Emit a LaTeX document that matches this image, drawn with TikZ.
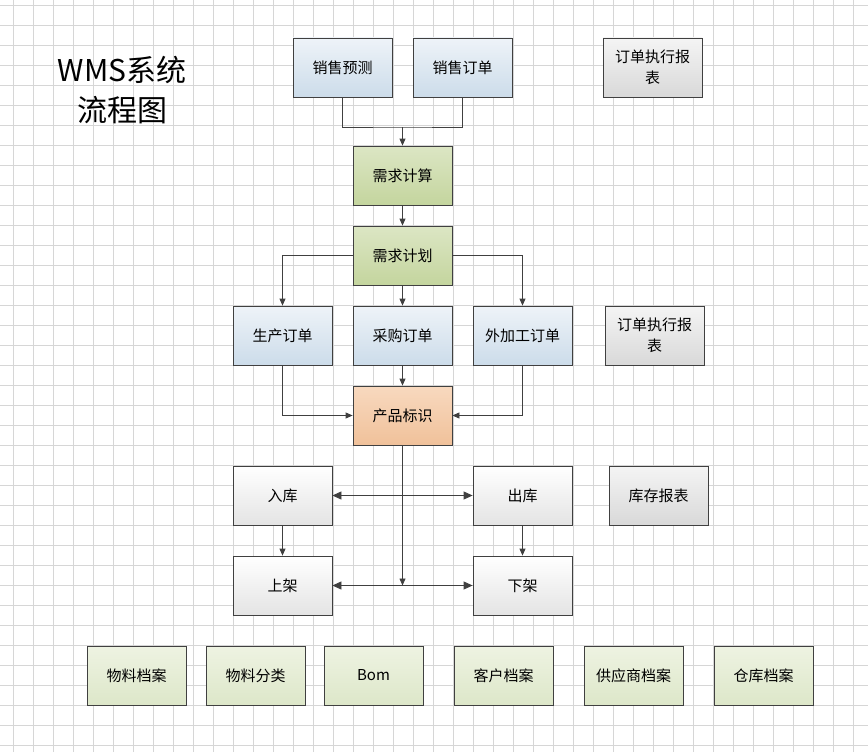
\documentclass[tikz,border=0pt]{standalone}
\usepackage{fontspec}
\setmainfont{Noto Sans CJK SC}
\usetikzlibrary{arrows.meta}
\definecolor{gridc}{HTML}{D6D6D6}
\definecolor{blueA}{HTML}{EEF3F8}\definecolor{blueB}{HTML}{CCDCEA}
\definecolor{grnA}{HTML}{DCE6C4}\definecolor{grnB}{HTML}{C4D59E}
\definecolor{orA}{HTML}{F8D9BF}\definecolor{orB}{HTML}{F0C19A}
\definecolor{gyA}{HTML}{FFFFFF}\definecolor{gyB}{HTML}{E4E4E4}
\definecolor{lgA}{HTML}{EEF3E2}\definecolor{lgB}{HTML}{DDE7C9}
\definecolor{linec}{HTML}{404040}
\begin{document}
\begin{tikzpicture}[x=1pt,y=-1pt,
 box/.style={draw=linec,line width=0.8pt,minimum width=99pt,minimum height=59pt,inner sep=2pt,font=\fontsize{15}{21}\selectfont,align=center},
 blue/.style={box,top color=blueA,bottom color=blueB},
 grn/.style={box,top color=grnA,bottom color=grnB},
 ora/.style={box,top color=orA,bottom color=orB},
 gry/.style={box,top color=gyA,bottom color=gyB},
 gry2/.style={box,top color=gyA!60!gyB,bottom color=gyB!95!black},
 lgr/.style={box,top color=lgA,bottom color=lgB},
 arr/.style={draw=linec,line width=0.8pt,-{Triangle[length=7pt,width=6pt]}},
 darr/.style={draw=linec,line width=0.8pt,{Triangle[length=9pt,width=8pt]}-{Triangle[length=9pt,width=8pt]}},
 ln/.style={draw=linec,line width=0.8pt}]
\useasboundingbox (0,0) rectangle (868,752);
\fill[white] (0,0) rectangle (868,752);
\foreach \x in {13,33,...,868} \draw[gridc,line width=0.6pt] (\x,0) -- (\x,752);
\foreach \y in {5,25,...,752} \draw[gridc,line width=0.6pt] (0,\y) -- (868,\y);
\node[align=center,font=\fontsize{30}{40}\selectfont] (title) at (122,90) {WMS系统\\流程图};
\node[blue] (yc) at (342.5,67.5) {销售预测};
\node[blue] (xd) at (462.5,67.5) {销售订单};
\node[gry2] (r1) at (652.5,67.5) {订单执行报\\表};
\node[grn] (jsuan) at (402.5,175.5) {需求计算};
\node[grn] (jhua) at (402.5,255.5) {需求计划};
\node[blue] (sc) at (282.5,335.5) {生产订单};
\node[blue] (cg) at (402.5,335.5) {采购订单};
\node[blue] (wjg) at (522.5,335.5) {外加工订单};
\node[gry2] (r2) at (654.5,335.5) {订单执行报\\表};
\node[ora] (bs) at (402.5,415.5) {产品标识};
\node[gry] (rk) at (282.5,495.5) {入库};
\node[gry] (ck) at (522.5,495.5) {出库};
\node[gry2] (r3) at (658.5,495.5) {库存报表};
\node[gry] (sj) at (282.5,585.5) {上架};
\node[gry] (xj) at (522.5,585.5) {下架};
\node[lgr] (b1) at (136.5,675.5) {物料档案};
\node[lgr] (b2) at (255.5,675.5) {物料分类};
\node[lgr] (b3) at (373.5,675.5) {Bom};
\node[lgr] (b4) at (503.5,675.5) {客户档案};
\node[lgr] (b5) at (633.5,675.5) {供应商档案};
\node[lgr] (b6) at (763.5,675.5) {仓库档案};
\coordinate (m1) at (402.5,127);
\draw[ln] (yc.south) |- (m1) -| (xd.south);
\draw[arr] (m1) -- (jsuan.north);
\draw[arr] (jsuan) -- (jhua);
\draw[arr] (jhua.west) -| (sc.north);
\draw[arr] (jhua.east) -| (wjg.north);
\draw[arr] (jhua) -- (cg);
\draw[arr] (sc.south) |- (bs.west);
\draw[arr] (wjg.south) |- (bs.east);
\draw[arr] (cg) -- (bs);
\draw[darr] (rk) -- (ck);
\draw[darr] (sj) -- (xj);
\coordinate (m2) at (402.5,585.5);
\draw[arr] (bs.south) -- (m2);
\draw[arr] (rk) -- (sj);
\draw[arr] (ck) -- (xj);
\end{tikzpicture}
\end{document}
